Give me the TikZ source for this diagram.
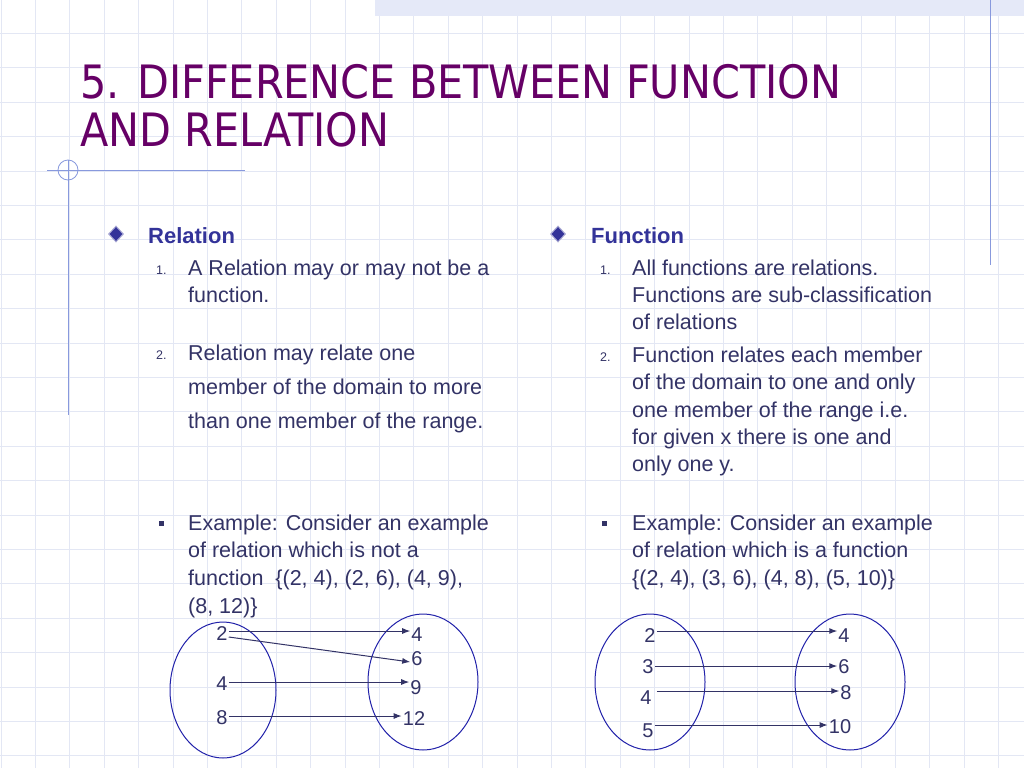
\documentclass[tikz,border=0pt]{standalone}
\usepackage{fontspec}
\setmainfont{Liberation Sans}
\newfontfamily\titlefont{DejaVu Sans Condensed}
\usetikzlibrary{arrows.meta,shapes.geometric}
\definecolor{txt}{HTML}{333366}
\definecolor{head}{HTML}{333399}
\definecolor{ttl}{HTML}{660066}
\definecolor{gridc}{HTML}{E3E7F4}
\definecolor{deco}{HTML}{8899DD}
\definecolor{ell}{HTML}{2222AA}
\tikzset{
  body/.style={anchor=base west,inner sep=0pt,text=txt,font=\fontsize{21.5}{24}\selectfont},
  num/.style={anchor=base west,inner sep=0pt,text=txt,font=\fontsize{12.5}{14}\selectfont},
  hd/.style={anchor=base west,inner sep=0pt,text=head,font=\fontsize{22}{24}\selectfont\bfseries},
  dia/.style={diamond,draw=head!40,line width=1pt,fill=head,inner sep=0pt,minimum width=15pt,minimum height=16pt},
  setell/.style={draw=ell,line width=1pt,ellipse},
  val/.style={inner sep=1pt,text=txt,font=\fontsize{20}{22}\selectfont},
  arr/.style={-{Latex[length=8pt,width=6pt]},draw=txt,line width=1pt},
}
\begin{document}
\begin{tikzpicture}[x=1pt,y=-1pt]
\useasboundingbox (0,0) rectangle (1024,768);
\fill[white] (0,0) rectangle (1024,768);
\foreach \i in {0,...,30} {\draw[gridc,line width=0.8pt] (\i*34.4+1,0) -- (\i*34.4+1,768);}
\foreach \i in {0,...,22} {\draw[gridc,line width=0.8pt] (0,\i*34.4-1) -- (1024,\i*34.4-1);}
\fill[deco!22] (375,0) rectangle (1024,16);
\draw[deco,line width=0.8pt] (990,0) -- (990,265);
\draw[deco,line width=0.8pt] (68,160) -- (68,415);
\draw[deco,line width=0.8pt] (47,170) -- (245,170);
\draw[deco,line width=0.8pt] (68,170) circle (10);
\node[anchor=base west,inner sep=0pt,text=ttl,font=\fontsize{46}{50}\titlefont] (t1) at (80,98) {5. DIFFERENCE BETWEEN FUNCTION};
\node[anchor=base west,inner sep=0pt,text=ttl,font=\fontsize{46}{50}\titlefont] (t2) at (80,146) {AND RELATION};
% left column
\node[dia] (d1) at (116,234) {};
\node[hd] (h1) at (148,243) {Relation};
\node[num] (n11) at (156,274) {1.};
\node[body] (l11) at (188,275) {A Relation may or may not be a};
\node[body] (l12) at (188,302) {function.};
\node[num] (n12) at (156,359) {2.};
\node[body] (l21) at (188,360) {Relation may relate one};
\node[body] (l22) at (188,394) {member of the domain to more};
\node[body] (l23) at (188,428) {than one member of the range.};
\node[fill=txt,minimum size=5pt,inner sep=0pt] (b1) at (161,523) {};
\node[body] (l31) at (188,530) {Example: Consider an example};
\node[body] (l32) at (188,557) {of relation which is not a};
\node[body] (l33) at (188,585) {function\ \ \{(2, 4), (2, 6), (4, 9),};
\node[body] (l34) at (188,613) {(8, 12)\}};
% right column
\node[dia] (d2) at (558,234) {};
\node[hd] (h2) at (591,243) {Function};
\node[num] (n21) at (600,274) {1.};
\node[body] (r11) at (632,275) {All functions are relations.};
\node[body] (r12) at (632,302) {Functions are sub-classification};
\node[body] (r13) at (632,329) {of relations};
\node[num] (n22) at (600,361) {2.};
\node[body] (r21) at (632,362) {Function relates each member};
\node[body] (r22) at (632,389) {of the domain to one and only};
\node[body] (r23) at (632,417) {one member of the range i.e.};
\node[body] (r24) at (632,444) {for given x there is one and};
\node[body] (r25) at (632,471) {only one y.};
\node[fill=txt,minimum size=5pt,inner sep=0pt] (b2) at (604,523) {};
\node[body] (r31) at (632,530) {Example: Consider an example};
\node[body] (r32) at (632,557) {of relation which is a function};
\node[body] (r33) at (632,585) {\{(2, 4), (3, 6), (4, 8), (5, 10)\}};
% left diagram
\node[setell,minimum width=106pt,minimum height=136pt] (A) at (223,690) {};
\node[setell,minimum width=110pt,minimum height=136pt] (B) at (423,682) {};
\node[val] (a2) at (222,634) {2};
\node[val] (a4) at (222,684) {4};
\node[val] (a8) at (222,718) {8};
\node[val] (b4) at (417,635) {4};
\node[val] (b6) at (417,659) {6};
\node[val] (b9) at (416,688) {9};
\node[val] (b12) at (414,719) {12};
\draw[arr] (a2.east |- 0,631) -- (b4.west |- 0,631);
\draw[arr] ([yshift=-3pt]a2.east) -- ([yshift=-3pt]b6.west);
\draw[arr] (a4.east |- 0,682) -- (b9.west |- 0,682);
\draw[arr] (a8.east |- 0,716) -- (b12.west |- 0,716);
% right diagram
\node[setell,minimum width=110pt,minimum height=136pt] (C) at (650,682) {};
\node[setell,minimum width=110pt,minimum height=136pt] (D) at (850,682) {};
\node[val] (c2) at (650,636) {2};
\node[val] (c3) at (648,667) {3};
\node[val] (c4) at (646,698) {4};
\node[val] (c5) at (648,731) {5};
\node[val] (d4) at (844,636) {4};
\node[val] (d6) at (844,667) {6};
\node[val] (d8) at (846,693) {8};
\node[val] (d10) at (840,727) {10};
\draw[arr] (c2.east |- 0,631) -- (d4.west |- 0,631);
\draw[arr] (c3.east |- 0,666) -- (d6.west |- 0,666);
\draw[arr] (c2.east |- 0,691) -- (d8.west |- 0,691);
\draw[arr] (c5.east |- 0,725) -- (d10.west |- 0,725);
\end{tikzpicture}
\end{document}
